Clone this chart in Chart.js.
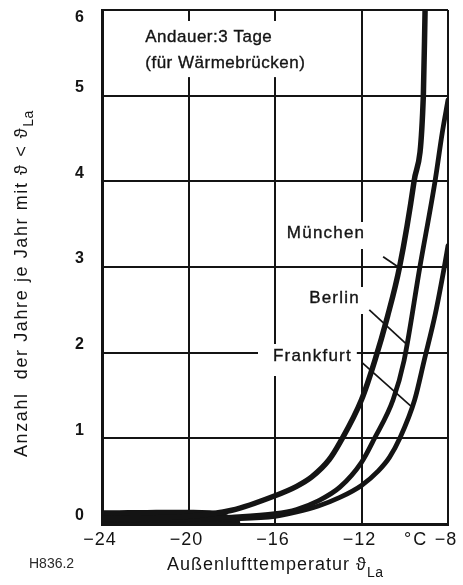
<!DOCTYPE html>
<html>
<head>
<meta charset="utf-8">
<script src="https://cdn.jsdelivr.net/npm/chart.js@4.4.1/dist/chart.umd.min.js"></script>
<style>
  html, body { margin: 0; padding: 0; background: #fff; }
  #c { display: block; }
</style>
</head>
<body>
<canvas id="c" width="463" height="585"></canvas>
<script>
// Axis ticks
const tempTicks = [-24, -20, -16, -12, -8];
const yearTicks = [0, 1, 2, 3, 4, 5, 6];

// Anzahl der Jahre je Jahr mit ϑ < ϑLa, Andauer 3 Tage
const muenchenTemp  = [-24, -20, -18, -16, -15, -14.3, -13.5, -13.0, -12.0, -11.38, -10.8, -10.24, -9.57, -9.14, -9.06];
const muenchenYears = [0.06, 0.09, 0.16, 0.33, 0.44, 0.55, 0.75, 0.95, 1.45, 1.91, 2.42, 3.0, 4.0, 5.0, 6.0];

const berlinTemp  = [-24, -20, -18, -16, -15, -14, -13, -12, -11.4, -10.54, -10.03, -9.3, -8.6, -8.27, -8.0];
const berlinYears = [0.05, 0.06, 0.08, 0.12, 0.17, 0.27, 0.43, 0.72, 1.0, 1.45, 1.91, 3.0, 4.0, 4.56, 4.95];

const frankfurtTemp  = [-24, -20, -18, -16, -15, -14, -13, -12, -11.22, -10.7, -10.23, -9.54, -9.1, -8.58, -8.17, -8.0];
const frankfurtYears = [0.04, 0.05, 0.06, 0.09, 0.14, 0.21, 0.31, 0.45, 0.62, 0.78, 1.0, 1.45, 1.91, 2.46, 3.0, 3.25];

// Where the three curves run together along the bottom
const bandTemp  = [-24, -19, -18.2, -17.6];
const bandYears = [0.16, 0.16, 0.11, 0.03];

// Leader lines from each city name to its curve
const leaderMuenchen  = [[-11.0, 3.12], [-10.3, 3.0]];
const leaderBerlin    = [[-11.64, 2.5], [-9.97, 2.11]];
const leaderFrankfurt = [[-11.96, 1.88], [-9.69, 1.37]];

// Text notes placed in data units, with the white ground around each
const notes = [
  { lines: ['Andauer:3 Tage', '(für Wärmebrücken)'], x: -22.0, y: [5.685, 5.38], align: 'left', ls: 0.5,
    pad: { l: 5, r: 6, t: 16, b: 14 } },
  { lines: ['München'],   x: -13.64, y: [3.397], align: 'center', ls: 1.2, pad: { l: 6, r: 5, t: 11, b: 16 } },
  { lines: ['Berlin'],    x: -13.25, y: [2.638], align: 'center', ls: 1.2, pad: { l: 8, r: 6, t: 11, b: 16 } },
  { lines: ['Frankfurt'], x: -14.27, y: [1.961], align: 'center', ls: 1.2, pad: { l: 15, r: 5, t: 12, b: 20 } }
];

const INK = '#141414';
const FONT = '"Liberation Sans", Arial, Helvetica, sans-serif';

const zip = (xs, ys) => xs.map((x, i) => ({ x: x, y: ys[i] }));
const pts = (arr) => arr.map(p => ({ x: p[0], y: p[1] }));

function curve(label, xs, ys, w) {
  return {
    label: label, data: zip(xs, ys), borderColor: INK, borderWidth: w,
    pointRadius: 0, fill: false, cubicInterpolationMode: 'monotone',
    borderCapStyle: 'round', borderJoinStyle: 'round'
  };
}
function leader(arr) {
  return { data: pts(arr), borderColor: INK, borderWidth: 1.7, pointRadius: 0, fill: false, tension: 0 };
}

function drawParts(ctx, parts, x, y) {
  let cx = x;
  parts.forEach(p => {
    ctx.font = p.font;
    ctx.letterSpacing = (p.ls || 0) + 'px';
    ctx.fillText(p.t, cx, y + (p.dy || 0));
    cx += ctx.measureText(p.t).width;
  });
  ctx.letterSpacing = '0px';
}

const decorations = {
  id: 'decorations',
  beforeDatasetsDraw(chart) {
    const { ctx, scales: { x, y } } = chart;
    ctx.save();
    ctx.textBaseline = 'middle';
    ctx.textAlign = 'left';
    notes.forEach(n => {
      ctx.font = '17px ' + FONT;
      ctx.letterSpacing = n.ls + 'px';
      const px = x.getPixelForValue(n.x);
      const widths = n.lines.map(t => ctx.measureText(t).width);
      const maxW = Math.max(...widths);
      const ys = n.y.map(v => y.getPixelForValue(v));
      const left = n.align === 'left' ? px : px - maxW / 2;
      const top = Math.min(...ys);
      const bottom = Math.max(...ys);
      // white ground behind the note so the grid stops around it
      ctx.fillStyle = '#fff';
      ctx.fillRect(left - n.pad.l, top - n.pad.t, maxW + n.pad.l + n.pad.r, bottom - top + n.pad.t + n.pad.b);
      ctx.fillStyle = INK;
      ctx.strokeStyle = INK;
      ctx.lineWidth = 0.35;
      n.lines.forEach((t, i) => {
        const lx = n.align === 'left' ? px : px - widths[i] / 2;
        ctx.fillText(t, lx, ys[i]);
        ctx.strokeText(t, lx, ys[i]);
      });
    });
    ctx.letterSpacing = '0px';
    ctx.restore();
  },
  afterDraw(chart) {
    const { ctx, scales: { x, y } } = chart;
    ctx.save();
    ctx.fillStyle = INK;

    // y tick labels
    ctx.font = 'bold 16px ' + FONT;
    ctx.textAlign = 'right';
    ctx.textBaseline = 'middle';
    yearTicks.forEach(v => {
      const py = Math.max(y.getPixelForValue(v) - 8, 18);
      ctx.fillText(String(v), 84, py);
    });

    // x tick labels
    ctx.font = '18px ' + FONT;
    ctx.textAlign = 'center';
    ctx.letterSpacing = '1px';
    tempTicks.forEach(v => {
      ctx.fillText('\u2212' + Math.abs(v), x.getPixelForValue(v) - 2, 540);
    });
    ctx.letterSpacing = '2px';
    ctx.textAlign = 'left';
    ctx.fillText('°C', 404, 540);
    ctx.letterSpacing = '0px';

    // x axis title
    ctx.textBaseline = 'alphabetic';
    drawParts(ctx, [
      { t: 'Außenlufttemperatur ϑ', font: '18px ' + FONT, ls: 1 },
      { t: 'La', font: '14px ' + FONT, dy: 7, ls: 0.5 }
    ], 167, 570);

    // figure number
    ctx.font = '14px ' + FONT;
    ctx.fillStyle = '#2a2a2a';
    ctx.textBaseline = 'middle';
    ctx.fillText('H836.2', 29, 564);
    ctx.fillStyle = INK;

    // y axis title
    ctx.translate(27, 457);
    ctx.rotate(-Math.PI / 2);
    ctx.textBaseline = 'alphabetic';
    drawParts(ctx, [
      { t: 'Anzahl  der Jahre je Jahr mit ϑ < ϑ', font: '18px ' + FONT, ls: 1.6 },
      { t: 'La', font: '14px ' + FONT, dy: 6, ls: 0.5 }
    ], 0, 0);
    ctx.restore();
  }
};

new Chart(document.getElementById('c'), {
  type: 'line',
  data: {
    datasets: [
      curve('München', muenchenTemp, muenchenYears, 5.5),
      curve('Berlin', berlinTemp, berlinYears, 4.8),
      curve('Frankfurt', frankfurtTemp, frankfurtYears, 4.8),
      { label: 'band', data: zip(bandTemp, bandYears), borderWidth: 0, pointRadius: 0,
        fill: 'origin', backgroundColor: INK, tension: 0.3 },
      leader(leaderMuenchen),
      leader(leaderBerlin),
      leader(leaderFrankfurt)
    ]
  },
  options: {
    responsive: false,
    animation: false,
    devicePixelRatio: 1,
    layout: { padding: { top: 10, right: 15, left: 0, bottom: 0 } },
    plugins: { legend: { display: false }, tooltip: { enabled: false } },
    scales: {
      x: {
        type: 'linear', min: -24, max: -8,
        afterBuildTicks: s => { s.ticks = tempTicks.map(v => ({ value: v })); },
        afterFit: s => { s.height = 61; },
        ticks: { display: false },
        grid: { color: INK, lineWidth: 2, drawTicks: false },
        border: { color: INK, width: 3 }
      },
      y: {
        type: 'linear', min: 0, max: 6,
        afterBuildTicks: s => { s.ticks = yearTicks.map(v => ({ value: v })); },
        afterFit: s => { s.width = 102; },
        ticks: { display: false },
        grid: { color: INK, lineWidth: 2, drawTicks: false },
        border: { color: INK, width: 3 }
      }
    }
  },
  plugins: [decorations]
});
</script>
</body>
</html>
